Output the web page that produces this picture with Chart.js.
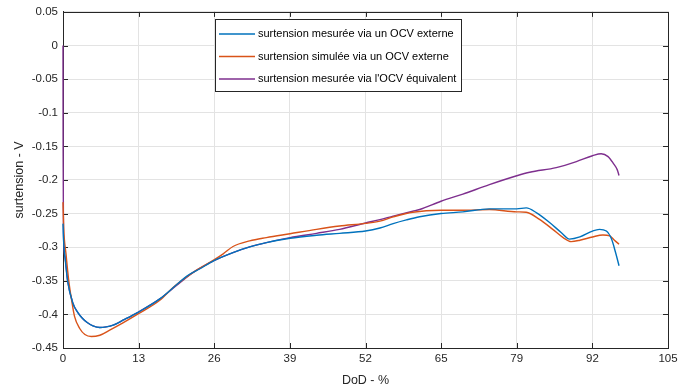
<!DOCTYPE html>
<html lang="fr">

<head>
  <meta charset="UTF-8" />
  <title>Surtension vs DoD</title>
  <script src="https://cdn.jsdelivr.net/npm/chart.js"></script>
  <style>
    body {
      margin: 0;
      background: #fff;
    }

    .chart-box {
      width: 678px;
      height: 389px;
    }
  </style>
</head>

<body>
  <div class="chart-box">
    <canvas id="surtensionChart"></canvas>
  </div>

  <script>
    // axis ticks (MATLAB style: 8 even steps of 105/8, labels rounded)
    const xTickValues = [0, 13.125, 26.25, 39.375, 52.5, 65.625, 78.75, 91.875, 105];
    const xTickLabels = ["0", "13", "26", "39", "52", "65", "79", "92", "105"];
    const yTickValues = [0.05, 0, -0.05, -0.1, -0.15, -0.2, -0.25, -0.3, -0.35, -0.4, -0.45];
    const yTickLabels = ["0.05", "0", "-0.05", "-0.1", "-0.15", "-0.2", "-0.25", "-0.3", "-0.35", "-0.4", "-0.45"];

    const seriesLabels = [
      "surtension mesurée via un OCV externe",
      "surtension simulée via un OCV externe",
      "surtension mesurée via l'OCV équivalent"
    ];

    // measured, external OCV
    const dodMes = [0, 0.1, 0.35, 0.8, 1.7, 2.55, 3.4, 4.2, 5.2, 6.4, 7.5, 8.7, 10.4, 13.1, 16.8, 19.7, 21.5, 23.7,
      26.2, 29.5, 32.4, 35.3, 39.4, 44, 48, 52.5, 55, 57.3, 59.6, 61.9, 65.6, 69.4, 74, 78.75, 80.4, 82.2, 84.5,
      86.5, 87.9, 89.7, 91.9, 93.1, 94.3, 95.2, 95.9, 96.5];
    const vMes = [-0.265, -0.29, -0.315, -0.35, -0.383, -0.397, -0.406, -0.412, -0.417, -0.4195, -0.4186, -0.416,
      -0.4087, -0.3965, -0.377, -0.356, -0.343, -0.3325, -0.32, -0.308, -0.2996, -0.2932, -0.2868, -0.2823,
      -0.2794, -0.276, -0.2715, -0.265, -0.2595, -0.2548, -0.25, -0.2475, -0.243, -0.243, -0.2416, -0.249,
      -0.2637, -0.2785, -0.288, -0.2848, -0.276, -0.2735, -0.276, -0.288, -0.308, -0.3276];

    // simulated, external OCV
    const dodSim = [0, 0.12, 0.52, 1.0, 1.5, 2.0, 2.9, 3.8, 4.9, 6.4, 8.1, 10.4, 13.1, 16.8, 19.1, 22.6, 26.2,
      27.8, 29.5, 32.4, 35.3, 39.4, 44, 48, 52.5, 55, 57.3, 60.7, 65.6, 69.4, 74, 78.75, 80.4, 82.7, 85, 86.8,
      88.2, 89.7, 91.9, 93.7, 94.9, 95.7, 96.5];
    const vSim = [-0.233, -0.271, -0.31, -0.35, -0.379, -0.403, -0.421, -0.43, -0.433, -0.431, -0.4235, -0.4127,
      -0.399, -0.379, -0.36, -0.3375, -0.319, -0.31, -0.299, -0.2907, -0.2858, -0.28, -0.2735, -0.2686, -0.2646,
      -0.2612, -0.255, -0.248, -0.245, -0.245, -0.244, -0.2475, -0.248, -0.2587, -0.2735, -0.2858, -0.2917,
      -0.2897, -0.2848, -0.2818, -0.2833, -0.2897, -0.2956];

    // measured, equivalent OCV
    const dodEq = [0, 0.02, 0.08, 0.35, 0.8, 1.7, 2.55, 3.4, 4.2, 5.2, 6.4, 7.5, 8.7, 10.4, 13.1, 16.8, 19.7,
      22.6, 26.2, 29.5, 32.4, 35.3, 39.4, 44, 48, 52.5, 55, 57.3, 60.7, 61.9, 65.6, 69.4, 74, 78.75, 81, 85.6,
      89.1, 91.9, 93.4, 94.6, 95.5, 96.2, 96.5];
    const vEq = [0, -0.15, -0.276, -0.315, -0.35, -0.383, -0.397, -0.406, -0.412, -0.417, -0.4195, -0.4186, -0.416,
      -0.4087, -0.3965, -0.377, -0.357, -0.3375, -0.32, -0.308, -0.2996, -0.2932, -0.2858, -0.2794, -0.2735,
      -0.264, -0.259, -0.2538, -0.2465, -0.244, -0.2317, -0.221, -0.207, -0.1938, -0.1885, -0.1816, -0.1727,
      -0.164, -0.161, -0.1653, -0.1752, -0.185, -0.1934];

    const colors = ["#0072BD", "#D95319", "#7E2F8E"];
    const FONT = "'Liberation Sans', Arial, sans-serif";
    const AXIS_COLOR = "#262626";

    function toPoints(xs, ys) {
      return xs.map((x, i) => ({ x: x, y: ys[i] }));
    }

    function makeDataset(i, xs, ys) {
      return {
        label: seriesLabels[i],
        data: toPoints(xs, ys),
        borderColor: colors[i],
        backgroundColor: colors[i],
        borderWidth: 1.4,
        pointRadius: 0,
        fill: false,
        clip: false,
        cubicInterpolationMode: "monotone"
      };
    }

    // box on all four sides + inward tick marks, like MATLAB (drawn under the curves)
    const boxPlugin = {
      id: "boxTicks",
      beforeDatasetsDraw(chart) {
        const { ctx, chartArea: a, scales } = chart;
        const len = 5;
        ctx.save();
        ctx.strokeStyle = AXIS_COLOR;
        ctx.lineWidth = 1;
        ctx.beginPath();
        scales.x.ticks.forEach(t => {
          const px = Math.round(scales.x.getPixelForValue(t.value)) + 0.5;
          ctx.moveTo(px, a.bottom); ctx.lineTo(px, a.bottom - len);
          ctx.moveTo(px, a.top); ctx.lineTo(px, a.top + len);
        });
        scales.y.ticks.forEach(t => {
          const py = Math.round(scales.y.getPixelForValue(t.value)) + 0.5;
          ctx.moveTo(a.left, py); ctx.lineTo(a.left + len, py);
          ctx.moveTo(a.right, py); ctx.lineTo(a.right - len, py);
        });
        ctx.stroke();
        ctx.strokeRect(Math.round(a.left) + 0.5, Math.round(a.top) + 0.5,
          Math.round(a.right - a.left), Math.round(a.bottom - a.top));
        ctx.restore();
      }
    };

    // legend box inside the axes
    const legendPlugin = {
      id: "innerLegend",
      afterDraw(chart) {
        const { ctx } = chart;
        const box = { x: 215, y: 19, w: 246, h: 72 };
        ctx.save();
        ctx.fillStyle = "#fff";
        ctx.fillRect(box.x, box.y, box.w, box.h);
        ctx.strokeStyle = AXIS_COLOR;
        ctx.lineWidth = 1;
        ctx.strokeRect(box.x + 0.5, box.y + 0.5, box.w, box.h);
        ctx.font = "11px " + FONT;
        ctx.textBaseline = "middle";
        chart.data.datasets.forEach((ds, i) => {
          const y = box.y + 15 + i * 22.5;
          ctx.strokeStyle = ds.borderColor;
          ctx.lineWidth = 1.4;
          ctx.beginPath();
          ctx.moveTo(box.x + 4, y);
          ctx.lineTo(box.x + 40, y);
          ctx.stroke();
          ctx.fillStyle = "#000";
          ctx.fillText(ds.label, box.x + 43, y);
        });
        ctx.restore();
      }
    };

    new Chart(document.getElementById("surtensionChart"), {
      type: "line",
      data: {
        datasets: [
          makeDataset(0, dodMes, vMes),
          makeDataset(1, dodSim, vSim),
          makeDataset(2, dodEq, vEq)
        ]
      },
      options: {
        responsive: true,
        maintainAspectRatio: false,
        animation: false,
        layout: { padding: { left: 0, top: 9, right: 10, bottom: 0 } },
        plugins: {
          legend: { display: false },
          tooltip: { enabled: false }
        },
        scales: {
          x: {
            type: "linear",
            min: 0,
            max: 105,
            afterBuildTicks: scale => { scale.ticks = xTickValues.map(v => ({ value: v })); },
            afterFit: scale => { scale.height = 41; scale.paddingLeft = 0; scale.paddingRight = 0; },
            ticks: {
              autoSkip: false,
              maxRotation: 0,
              padding: 4,
              color: AXIS_COLOR,
              font: { family: FONT, size: 11.5 },
              callback: (value, index) => xTickLabels[index]
            },
            grid: { color: "#e3e3e3", drawTicks: false },
            border: { color: AXIS_COLOR },
            title: {
              display: true,
              text: "DoD - %",
              color: AXIS_COLOR,
              font: { family: FONT, size: 12.5 },
              padding: { top: 0, bottom: 1 }
            }
          },
          y: {
            type: "linear",
            min: -0.45,
            max: 0.05,
            afterBuildTicks: scale => { scale.ticks = yTickValues.map(v => ({ value: v })); },
            afterFit: scale => { scale.width = 63; },
            ticks: {
              autoSkip: false,
              padding: 5,
              color: AXIS_COLOR,
              font: { family: FONT, size: 11.5 },
              callback: (value, index) => yTickLabels[index]
            },
            grid: { color: "#e3e3e3", drawTicks: false },
            border: { color: AXIS_COLOR },
            title: {
              display: true,
              text: "surtension - V",
              color: AXIS_COLOR,
              font: { family: FONT, size: 12.5 },
              padding: { top: 12, bottom: 0 }
            }
          }
        }
      },
      plugins: [boxPlugin, legendPlugin]
    });
  </script>
</body>

</html>
